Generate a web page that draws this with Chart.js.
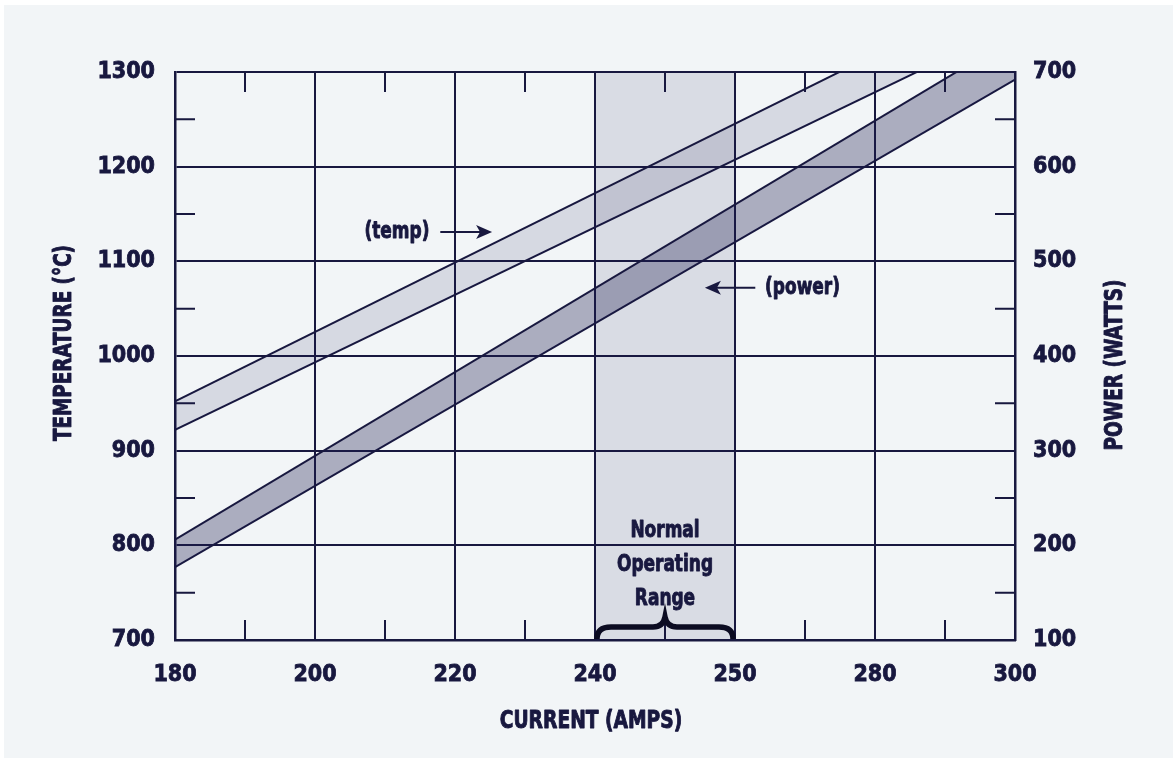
<!DOCTYPE html>
<html><head><meta charset="utf-8">
<script src="https://cdn.jsdelivr.net/npm/chart.js@4.4.1/dist/chart.umd.min.js"></script>
<style>
html,body{margin:0;padding:0;background:#ffffff;}
#wrap{position:absolute;left:4px;top:5px;width:1169px;height:753px;background:#f2f5f7;}
canvas{display:block;}
</style></head><body><div id="wrap"><canvas id="c"></canvas></div>
<script>
// ---- data ----
const current = [180, 300];
const tempHigh = [952, 1392];
const tempLow = [922, 1350];
const powerHigh = [206, 737];
const powerLow = [177, 692];
const xTickValues = [180, 200, 220, 240, 260, 280, 300];
const xTickLabels = ['180', '200', '220', '240', '250', '280', '300'];
const xMinorTicks = [190, 210, 230, 250, 270, 290];
const yMinorTicks = [750, 850, 950, 1050, 1150, 1250];
const normalRange = [240, 260];
const rangeLabel = ['Normal', 'Operating', 'Range'];

// ---- style ----
const NAVY = '#18183f';
const FF = "'Liberation Sans Narrow','DejaVu Sans Condensed','Roboto Condensed',sans-serif";
Chart.defaults.font.family = FF;
Chart.defaults.color = NAVY;

const pts = (ys) => current.map((x, i) => ({x, y: ys[i]}));

function text(ctx, str, x, y, opts) {
  const o = Object.assign({size: 23, sx: 0.82, align: 'center', rot: 0}, opts || {});
  ctx.save();
  ctx.font = 'bold ' + o.size + 'px ' + FF;
  ctx.fillStyle = NAVY;
  ctx.strokeStyle = NAVY;
  ctx.lineWidth = 0.9;
  ctx.lineJoin = 'round';
  ctx.textBaseline = 'middle';
  ctx.textAlign = o.align;
  ctx.translate(x, y);
  if (o.rot) ctx.rotate(o.rot);
  ctx.scale(o.sx, 1);
  ctx.fillText(str, 0, 0);
  ctx.strokeText(str, 0, 0);
  ctx.restore();
}

function arrow(ctx, x0, x1, y) {
  const dir = Math.sign(x1 - x0);
  ctx.beginPath();
  ctx.moveTo(x0, y); ctx.lineTo(x1 - dir * 10, y);
  ctx.lineWidth = 2; ctx.strokeStyle = NAVY; ctx.stroke();
  ctx.beginPath();
  ctx.moveTo(x1, y);
  ctx.lineTo(x1 - dir * 16, y - 7);
  ctx.lineTo(x1 - dir * 12, y);
  ctx.lineTo(x1 - dir * 16, y + 7);
  ctx.closePath(); ctx.fillStyle = NAVY; ctx.fill();
}

const overlay = {
  id: 'overlay',
  beforeDatasetsDraw(chart) {
    const {ctx, chartArea: a, scales: {x}} = chart;
    const x0 = x.getPixelForValue(normalRange[0]), x1 = x.getPixelForValue(normalRange[1]);
    ctx.save();
    ctx.fillStyle = 'rgba(27,27,80,0.115)';
    ctx.fillRect(x0, a.top, x1 - x0, a.bottom - a.top);
    ctx.restore();
  },
  afterDraw(chart) {
    const {ctx, chartArea: a, scales: {x, y}} = chart;
    ctx.save();
    ctx.strokeStyle = NAVY; ctx.lineWidth = 2;
    // minor ticks
    xMinorTicks.forEach(v => {
      const px = x.getPixelForValue(v);
      ctx.beginPath();
      ctx.moveTo(px, a.top); ctx.lineTo(px, a.top + 20);
      ctx.moveTo(px, a.bottom); ctx.lineTo(px, a.bottom - 20);
      ctx.stroke();
    });
    yMinorTicks.forEach(v => {
      const py = y.getPixelForValue(v);
      ctx.beginPath();
      ctx.moveTo(a.left, py); ctx.lineTo(a.left + 20, py);
      ctx.moveTo(a.right, py); ctx.lineTo(a.right - 20, py);
      ctx.stroke();
    });
    // brace
    const L = x.getPixelForValue(normalRange[0]) + 2, R = x.getPixelForValue(normalRange[1]) - 2;
    const M = (L + R) / 2, B = a.bottom - 1;
    ctx.beginPath();
    ctx.moveTo(L, B);
    ctx.quadraticCurveTo(L, B - 12, L + 14, B - 12);
    ctx.lineTo(M - 12, B - 12);
    ctx.quadraticCurveTo(M - 2, B - 12, M, B - 22);
    ctx.quadraticCurveTo(M + 2, B - 12, M + 12, B - 12);
    ctx.lineTo(R - 14, B - 12);
    ctx.quadraticCurveTo(R, B - 12, R, B);
    ctx.lineWidth = 5.5; ctx.strokeStyle = '#0c0c22'; ctx.lineCap = 'butt'; ctx.stroke();
    ctx.restore();

    // range label
    const cx = x.getPixelForValue((normalRange[0] + normalRange[1]) / 2);
    const ly = y.getPixelForValue(815);
    rangeLabel.forEach((t, i) => text(ctx, t, cx, ly + i * 34));

    // (temp)
    const ty = y.getPixelForValue(1131);
    text(ctx, '(temp)', x.getPixelForValue(211.7), ty);
    arrow(ctx, x.getPixelForValue(217.9), x.getPixelForValue(225.3), ty);
    // (power)
    const py = y.getPixelForValue(1072);
    text(ctx, '(power)', x.getPixelForValue(264.3), py, {align: 'left'});
    arrow(ctx, x.getPixelForValue(262.9), x.getPixelForValue(255.7), py);

    // axis titles
    const midY = (a.top + a.bottom) / 2;
    const midX = (a.left + a.right) / 2;
    text(ctx, 'TEMPERATURE (°C)', a.left - 110, midY - 13, {size: 24, sx: 0.85, rot: -Math.PI / 2});
    text(ctx, 'POWER (WATTS)', a.right + 101, midY + 9, {size: 24, sx: 0.856, rot: -Math.PI / 2});
    text(ctx, 'CURRENT (AMPS)', midX - 4, a.bottom + 82, {size: 24, sx: 0.865});
  }
};

const lineDs = (label, data, axis, fill, bg) => ({
  label, data, yAxisID: axis, fill, backgroundColor: bg,
  borderColor: NAVY, borderWidth: 2, pointRadius: 0, tension: 0
});

const tickFont = {size: 23, weight: 'bold'};

new Chart(document.getElementById('c'), {
  type: 'line',
  data: {
    datasets: [
      lineDs('temp high', pts(tempHigh), 'y', '+1', 'rgba(27,27,80,0.125)'),
      lineDs('temp low', pts(tempLow), 'y', false, 'transparent'),
      lineDs('power high', pts(powerHigh), 'y2', '+1', 'rgba(27,27,80,0.33)'),
      lineDs('power low', pts(powerLow), 'y2', false, 'transparent')
    ]
  },
  options: {
    responsive: true, maintainAspectRatio: false, animation: false,
    layout: {padding: {top: 67, left: 0, right: 0, bottom: 0}},
    plugins: {legend: {display: false}, tooltip: {enabled: false}},
    scales: {
      x: {
        type: 'linear', min: 180, max: 300, z: 1,
        afterBuildTicks: s => { s.ticks = xTickValues.map(v => ({value: v})); },
        afterFit: s => { s.height = 118; },
        ticks: {
          padding: 21, color: NAVY, font: tickFont,
          textStrokeColor: NAVY, textStrokeWidth: 0.8,
          callback: v => xTickLabels[xTickValues.indexOf(v)]
        },
        grid: {color: NAVY, lineWidth: 2, drawTicks: false},
        border: {color: NAVY, width: 2.5}
      },
      y: {
        type: 'linear', position: 'left', min: 700, max: 1300, z: 1,
        afterFit: s => { s.width = 171; },
        ticks: {stepSize: 100, padding: 20, color: NAVY, font: tickFont,
          textStrokeColor: NAVY, textStrokeWidth: 0.8,
          callback: v => String(v)},
        grid: {color: NAVY, lineWidth: 2, drawTicks: false},
        border: {color: NAVY, width: 2.5}
      },
      y2: {
        type: 'linear', position: 'right', min: 100, max: 700, z: 1,
        afterFit: s => { s.width = 158; },
        ticks: {stepSize: 100, padding: 18, color: NAVY, font: tickFont,
          textStrokeColor: NAVY, textStrokeWidth: 0.8,
          callback: v => String(v)},
        grid: {display: false, drawTicks: false},
        border: {color: NAVY, width: 2.5}
      }
    }
  },
  plugins: [overlay]
});
</script>
</body></html>
